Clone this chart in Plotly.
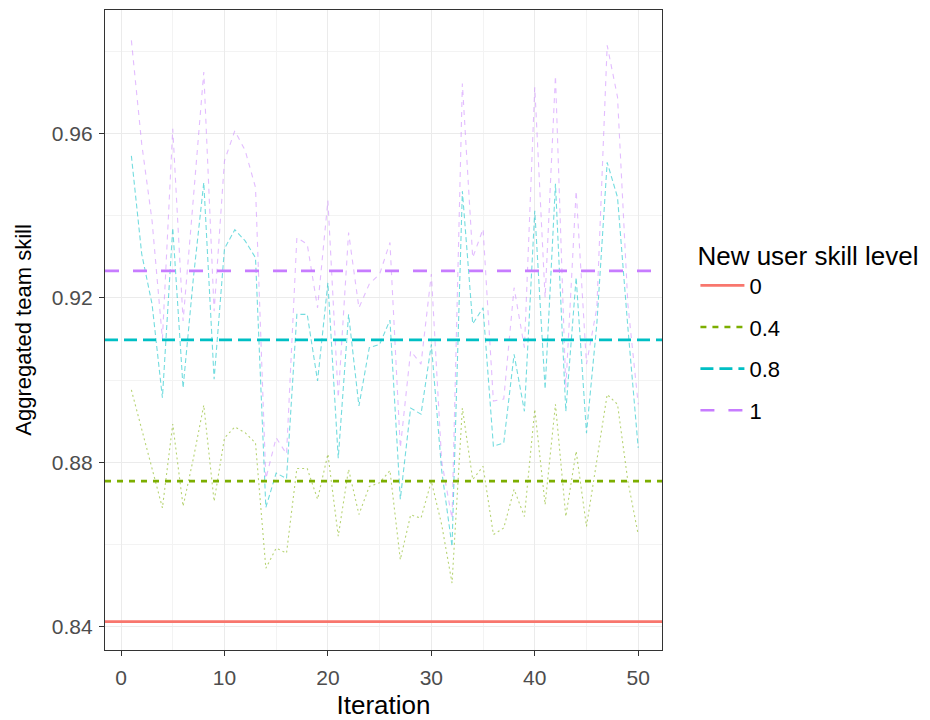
import plotly.graph_objects as go

iterations = list(range(1, 51))

skill_04 = [0.8976, 0.8878, 0.8780, 0.8689, 0.8893, 0.8693, 0.8810, 0.8939, 0.8705, 0.8859,
            0.8886, 0.8872, 0.8847, 0.8542, 0.8591, 0.8579, 0.8785, 0.8785, 0.8710, 0.8820,
            0.8620, 0.8783, 0.8673, 0.8741, 0.8750, 0.8780, 0.8563, 0.8672, 0.8664, 0.8754,
            0.8648, 0.8506, 0.8932, 0.8758, 0.8790, 0.8624, 0.8640, 0.8734, 0.8668, 0.8929,
            0.8697, 0.8941, 0.8668, 0.8827, 0.8644, 0.8802, 0.8965, 0.8941, 0.8754, 0.8624]

skill_08 = [0.9546, 0.9307, 0.9185, 0.8957, 0.9371, 0.8981, 0.9250, 0.9481, 0.9002, 0.9320,
            0.9366, 0.9339, 0.9298, 0.8690, 0.8774, 0.8760, 0.9160, 0.9160, 0.8998, 0.9237,
            0.8810, 0.9160, 0.8937, 0.9079, 0.9087, 0.9146, 0.8710, 0.8932, 0.8917, 0.9087,
            0.8780, 0.8595, 0.9460, 0.9137, 0.9176, 0.8839, 0.8847, 0.9063, 0.8924, 0.9412,
            0.8978, 0.9478, 0.8924, 0.9250, 0.8871, 0.9137, 0.9530, 0.9445, 0.9128, 0.8835]

skill_1 = [0.9827, 0.9575, 0.9388, 0.9100, 0.9612, 0.9144, 0.9445, 0.9750, 0.9168, 0.9534,
           0.9607, 0.9559, 0.9469, 0.8760, 0.8860, 0.8820, 0.9347, 0.9331, 0.9176, 0.9437,
           0.8957, 0.9359, 0.9176, 0.9234, 0.9258, 0.9335, 0.8835, 0.9071, 0.9039, 0.9258,
           0.8802, 0.8663, 0.9722, 0.9298, 0.9368, 0.8949, 0.8954, 0.9225, 0.9079, 0.9713,
           0.9201, 0.9741, 0.8981, 0.9461, 0.9039, 0.9176, 0.9815, 0.9689, 0.9185, 0.8941]

levels = ["0", "0.4", "0.8", "1"]
mean_values = [0.8412, 0.8754, 0.9098, 0.9266]
level_colors = ["#F8766D", "#7CAE00", "#00BFC4", "#C77CFF"]
data_colors = ["rgba(248,118,109,0.55)", "rgba(124,174,0,0.55)", "rgba(0,191,196,0.55)", "rgba(199,124,255,0.5)"]
mean_dash = ["solid", "6px,6px", "13px,6px", "14px,14px"]
data_dash = ["solid", "2px,3px", "5px,3px", "5px,5px"]

x_ticks = [0, 10, 20, 30, 40, 50]
y_ticks = [0.84, 0.88, 0.92, 0.96]

series = {"0.4": skill_04, "0.8": skill_08, "1": skill_1}

fig = go.Figure()

for i, lvl in enumerate(levels):
    if lvl in series:
        fig.add_trace(go.Scatter(
            x=iterations, y=series[lvl], mode="lines",
            line=dict(color=data_colors[i], width=1.1, dash=data_dash[i]),
            showlegend=False, hoverinfo="skip"))

for i, lvl in enumerate(levels):
    fig.add_shape(type="line", xref="x domain", yref="y", x0=0, x1=1,
                  y0=mean_values[i], y1=mean_values[i],
                  line=dict(color=level_colors[i], width=2.6, dash=mean_dash[i]),
                  showlegend=True, name=lvl, legendrank=i + 1, legendgroup=lvl)

axis_common = dict(
    showgrid=True, gridcolor="#EBEBEB", gridwidth=1.1,
    showline=True, linecolor="#333333", linewidth=1.2, mirror=True,
    ticks="outside", ticklen=5, tickwidth=1.1, tickcolor="#333333",
    tickfont=dict(size=21, color="#4D4D4D"),
    zeroline=False, automargin=False,
)

fig.update_xaxes(
    range=[-1.55, 52.3], tickvals=x_ticks, ticklabelstandoff=4,
    minor=dict(dtick=5, tick0=5, showgrid=True, gridcolor="#F3F3F3", gridwidth=0.7, ticks=""),
    title=dict(text="Iteration", font=dict(size=26, color="#000000"), standoff=10),
    **axis_common)
fig.update_yaxes(
    range=[0.8343, 0.9901], tickvals=y_ticks, tickformat=".2f", ticklabelstandoff=2,
    minor=dict(dtick=0.02, tick0=0.84, showgrid=True, gridcolor="#F3F3F3", gridwidth=0.7, ticks=""),
    title=dict(text="Aggregated team skill", font=dict(size=22, color="#000000"), standoff=14),
    **axis_common)

fig.update_layout(
    width=930, height=720,
    margin=dict(l=105, r=268, t=10, b=70, autoexpand=False),
    paper_bgcolor="white", plot_bgcolor="white",
    font=dict(family="Liberation Sans, Arial, sans-serif"),
    legend=dict(
        title=dict(text="New user skill level", font=dict(size=26, color="#000000")),
        font=dict(size=22, color="#000000"),
        x=1.06, xanchor="left", y=0.498, yanchor="middle",
        tracegroupgap=10, itemwidth=44, bgcolor="rgba(0,0,0,0)",
    ),
)

fig.write_html("out.html")
